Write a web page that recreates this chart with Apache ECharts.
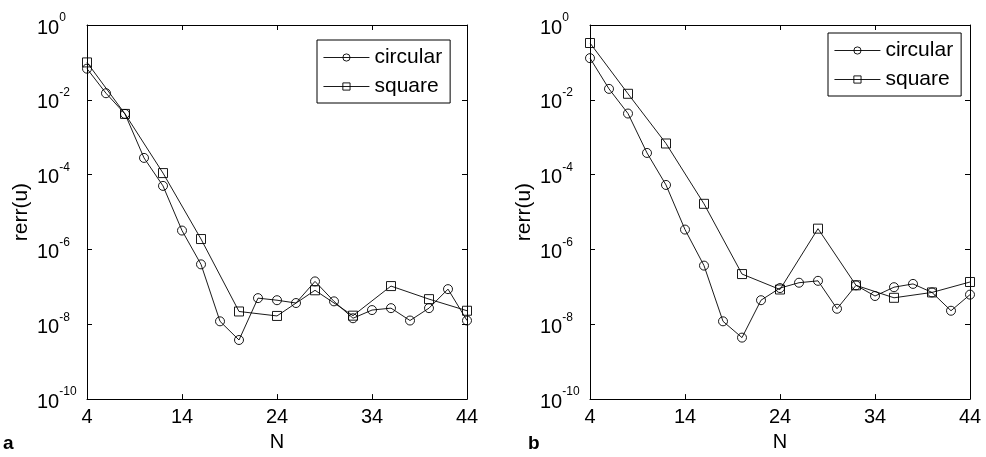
<!DOCTYPE html>
<html>
<head>
<meta charset="utf-8">
<script src="https://cdn.jsdelivr.net/npm/echarts@6/dist/echarts.min.js"></script>
<style>
  html, body { margin: 0; padding: 0; background: #fff; }
  #main { width: 986px; height: 457px; }
</style>
</head>
<body>
<div id="main"></div>
<script>
// N values
var nCircle = [4, 6, 8, 10, 12, 14, 16, 18, 20, 22, 24, 26, 28, 30, 32, 34, 36, 38, 40, 42, 44];
var nSquare = [4, 8, 12, 16, 20, 24, 28, 32, 36, 40, 44];

// panel a
var circleA = [0.068, 0.015, 0.0042, 2.8e-4, 5e-5, 3.2e-6, 4e-7, 1.2e-8, 3.8e-9, 5e-8, 4.4e-8,
  3.7e-8, 1.4e-7, 4.1e-8, 1.45e-8, 2.4e-8, 2.7e-8, 1.26e-8, 2.7e-8, 8.7e-8, 1.26e-8];
var squareA = [0.1, 0.0042, 1.1e-4, 1.9e-6, 2.2e-8, 1.67e-8, 8.1e-8, 1.7e-8, 1.05e-7, 4.7e-8, 2.3e-8];

// panel b
var circleB = [0.13, 0.0196, 0.0043, 3.8e-4, 5.3e-5, 3.4e-6, 3.7e-7, 1.2e-8, 4.4e-9, 4.4e-8, 9.3e-8,
  1.29e-7, 1.45e-7, 2.6e-8, 1.1e-7, 5.7e-8, 9.8e-8, 1.2e-7, 7.1e-8, 2.3e-8, 6.2e-8];
var squareB = [0.33, 0.0145, 6.8e-4, 1.66e-5, 2.2e-7, 8.5e-8, 3.6e-6, 1.1e-7, 5.1e-8, 7.1e-8, 1.35e-7];

// ticks
var xTicks = [4, 14, 24, 34, 44];
var yTicks = [1e-10, 1e-8, 1e-6, 1e-4, 1e-2, 1];

var font = 'Liberation Sans';
var chart = echarts.init(document.getElementById('main'));

function pair(xs, ys) {
  return xs.map(function (x, i) { return [x, ys[i]]; });
}

function xAxes(gi) {
  return [{
    type: 'value', gridIndex: gi, min: 4, max: 44, position: 'bottom',
    name: 'N', nameLocation: 'middle', nameGap: 30,
    nameTextStyle: { fontFamily: font, fontSize: 20, color: '#000' },
    splitLine: { show: false },
    axisLine: { lineStyle: { color: '#000', width: 1 } },
    axisTick: { inside: true, length: 5, customValues: xTicks, lineStyle: { color: '#000' } },
    axisLabel: { customValues: xTicks, margin: 8, fontFamily: font, fontSize: 20, color: '#000' }
  }, {
    type: 'value', gridIndex: gi, min: 4, max: 44, position: 'top',
    splitLine: { show: false },
    axisLine: { lineStyle: { color: '#000', width: 1 } },
    axisTick: { inside: true, length: 5, customValues: xTicks, lineStyle: { color: '#000' } },
    axisLabel: { show: false }
  }];
}

function yAxes(gi) {
  return [{
    type: 'log', logBase: 10, gridIndex: gi, min: 1e-10, max: 1, position: 'left',
    name: 'rerr(u)', nameLocation: 'middle', nameGap: 55, nameRotate: 90,
    nameTextStyle: { fontFamily: font, fontSize: 21, color: '#000' },
    splitLine: { show: false },
    axisLine: { show: true, lineStyle: { color: '#000', width: 1 } },
    axisTick: { inside: true, length: 5, customValues: yTicks, lineStyle: { color: '#000' } },
    axisLabel: {
      customValues: yTicks, margin: 50, align: 'left',
      formatter: function (v) {
        var e = Math.round(Math.log10(v));
        return '{b|10}{s|' + e + '}';
      },
      rich: {
        b: { fontFamily: font, fontSize: 20, color: '#000', lineHeight: 26, verticalAlign: 'bottom' },
        s: { fontFamily: font, fontSize: 12, color: '#000', lineHeight: 26, verticalAlign: 'top', padding: [0, 0, 10, 0] }
      }
    }
  }, {
    type: 'log', logBase: 10, gridIndex: gi, min: 1e-10, max: 1, position: 'right',
    splitLine: { show: false },
    axisLine: { show: true, lineStyle: { color: '#000', width: 1 } },
    axisTick: { inside: true, length: 5, customValues: yTicks, lineStyle: { color: '#000' } },
    axisLabel: { show: false }
  }];
}

// hollow markers, line runs through them like in matlab
function line(name, data, sym, xi, yi) {
  return {
    name: name, type: 'line', data: data,
    xAxisIndex: xi, yAxisIndex: yi,
    symbol: sym, symbolSize: 9,
    showAllSymbol: true,
    lineStyle: { color: '#000', width: 0.9 },
    itemStyle: { color: 'rgba(0,0,0,0)', borderColor: '#000', borderWidth: 0.9 },
    emphasis: { disabled: true },
    animation: false
  };
}

function legend(left, top) {
  return {
    data: ['circular', 'square'], orient: 'vertical',
    left: left, top: top, itemWidth: 46, itemHeight: 9, itemGap: 8,
    padding: [7, 8, 6, 6],
    borderColor: '#000', borderWidth: 1, backgroundColor: '#fff',
    lineStyle: { width: 0.9, color: '#000' },
    itemStyle: { color: 'rgba(0,0,0,0)', borderColor: '#000', borderWidth: 0.9 },
    textStyle: { fontFamily: font, fontSize: 21, color: '#000' },
    selectedMode: false
  };
}

chart.setOption({
  backgroundColor: '#fff',
  animation: false,
  grid: [
    { left: 87, top: 25, width: 380, height: 381 },
    { left: 590, top: 25, width: 380, height: 381 }
  ],
  xAxis: xAxes(0).concat(xAxes(1)),
  yAxis: yAxes(0).concat(yAxes(1)),
  legend: [legend(317, 40), legend(828, 33)],
  series: [
    line('circular', pair(nCircle, circleA), 'circle', 0, 0),
    line('square', pair(nSquare, squareA), 'rect', 0, 0),
    line('circular', pair(nCircle, circleB), 'circle', 2, 2),
    line('square', pair(nSquare, squareB), 'rect', 2, 2)
  ],
  graphic: [
    { type: 'text', left: 3, top: 434, style: { text: 'a', fontFamily: font, fontSize: 19, fontWeight: 'bold', fill: '#000' } },
    { type: 'text', left: 528, top: 434, style: { text: 'b', fontFamily: font, fontSize: 19, fontWeight: 'bold', fill: '#000' } }
  ]
});
</script>
</body>
</html>
